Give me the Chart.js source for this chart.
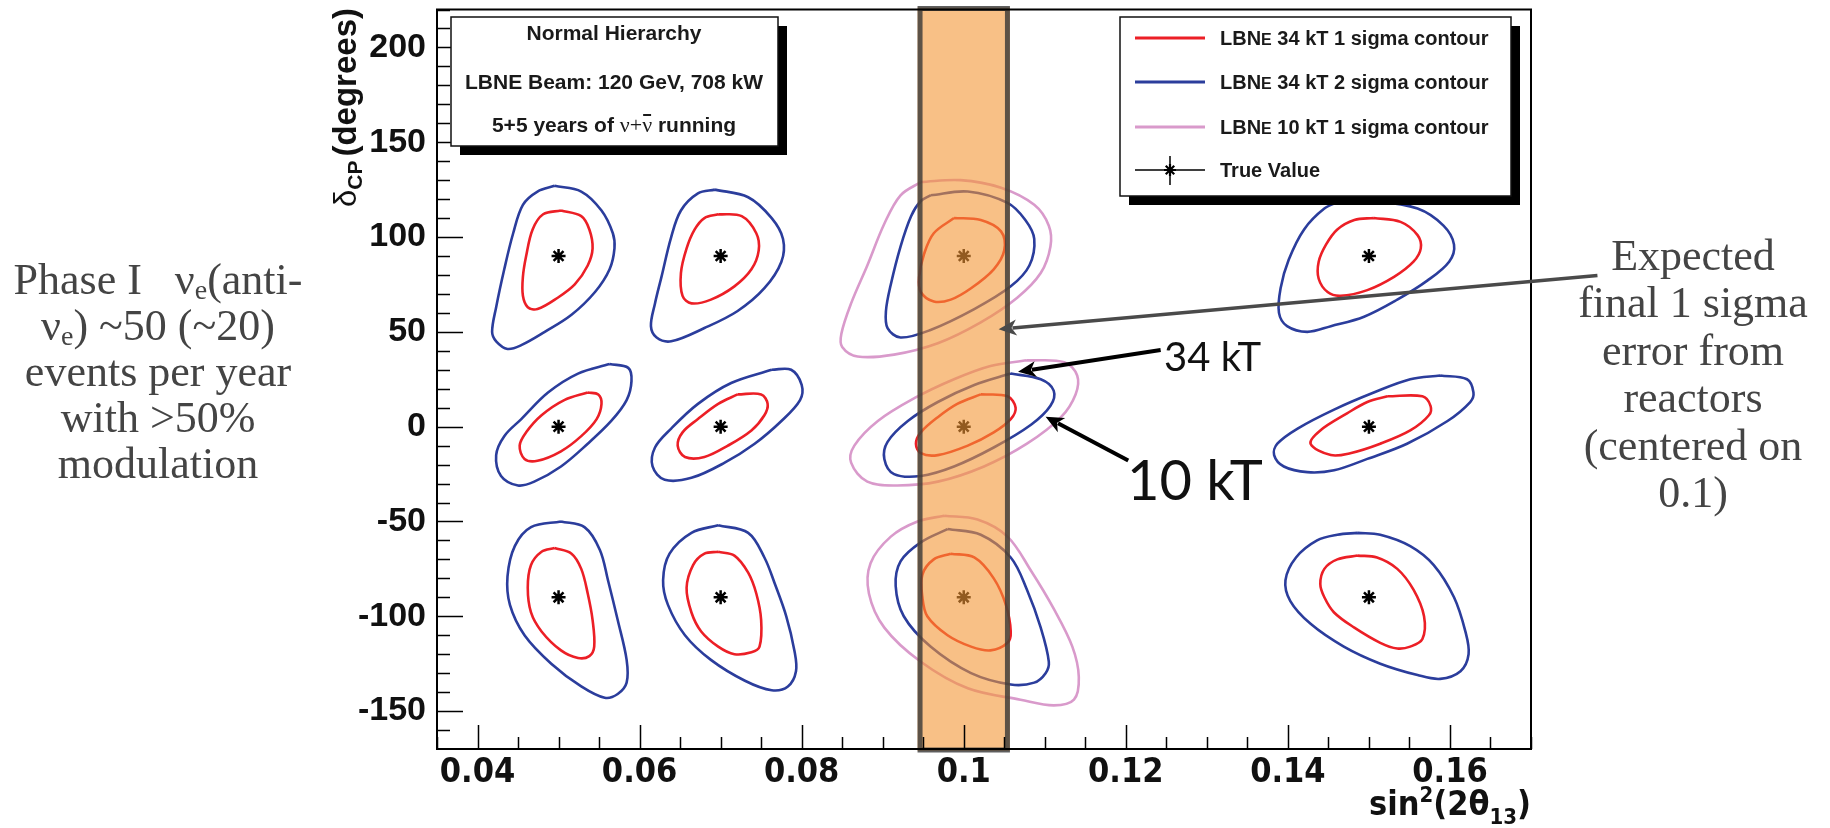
<!DOCTYPE html>
<html>
<head>
<meta charset="utf-8">
<script src="https://cdn.jsdelivr.net/npm/chart.js@4.4.1/dist/chart.umd.min.js"></script>
<style>
  html, body { margin: 0; padding: 0; background: #fff; }
  #wrap { width: 1830px; height: 828px; position: relative; }
</style>
</head>
<body>
<div id="wrap"><canvas id="chart" width="1830" height="828"></canvas></div>
<script>
// axis ticks
const xTickVals = [0.04, 0.06, 0.08, 0.1, 0.12, 0.14, 0.16];
const yTickVals = [-150, -100, -50, 0, 50, 100, 150, 200];

// true values (sin^2 2theta13, deltaCP)
const trueValues = [
  [0.05, 90], [0.07, 90], [0.1, 90], [0.15, 90],
  [0.05, 0], [0.07, 0], [0.1, 0], [0.15, 0],
  [0.05, -90], [0.07, -90], [0.1, -90], [0.15, -90]
];

// LBNE 34 kT 1 sigma contours
const red34kT = [
  [[0.0503,114],[0.0528,111],[0.0538,104],[0.0542,94],[0.0536,85],[0.052,75],[0.0499,68],[0.0474,62],[0.0462,63],[0.0456,69],[0.0456,79],[0.046,90],[0.0468,104],[0.0481,112]],
  [[0.0697,112],[0.0726,111],[0.0744,102],[0.0747,93],[0.0738,83],[0.0717,74],[0.0688,67],[0.0664,65],[0.0653,69],[0.0651,81],[0.0658,94],[0.0668,104],[0.068,110]],
  [[0.0988,110],[0.1021,109],[0.1046,103],[0.105,93],[0.1037,83],[0.1009,73],[0.0984,67],[0.0963,66],[0.0947,71],[0.0945,79],[0.0951,91],[0.0963,102]],
  [[0.1506,110],[0.1539,108],[0.156,101],[0.1564,94],[0.1555,87],[0.1531,79],[0.1498,72],[0.1465,69],[0.1449,71],[0.1438,78],[0.1438,87],[0.1447,96],[0.1461,104],[0.1482,109]],
  [[0.0536,18],[0.0549,17],[0.0553,12],[0.0547,4],[0.0528,-5],[0.0503,-13],[0.0474,-18],[0.0458,-17],[0.0452,-10],[0.046,-3],[0.0479,6],[0.0507,14]],
  [[0.0721,17],[0.075,17],[0.0758,12],[0.0754,6],[0.0738,-2],[0.0709,-10],[0.068,-16],[0.0656,-16],[0.0647,-10],[0.0653,-3],[0.0672,4],[0.0697,12]],
  [[0.1021,17],[0.1054,16],[0.1064,10],[0.1058,4],[0.1037,-3],[0.1005,-10],[0.0968,-15],[0.0947,-14],[0.0941,-9],[0.0947,-3],[0.0968,5],[0.0992,12]],
  [[0.1523,16],[0.1566,16],[0.1576,11],[0.1574,6],[0.1551,-2],[0.1514,-9],[0.1477,-14],[0.1453,-15],[0.1428,-9],[0.144,-2],[0.1473,7],[0.1498,13]],
  [[0.0495,-64],[0.0516,-67],[0.0528,-75],[0.0536,-88],[0.0542,-102],[0.0544,-116],[0.0538,-121],[0.0524,-122],[0.0503,-118],[0.0479,-108],[0.0466,-98],[0.0462,-85],[0.0466,-73],[0.0479,-66]],
  [[0.0697,-66],[0.0717,-68],[0.0734,-77],[0.0744,-88],[0.075,-102],[0.0748,-116],[0.0738,-119],[0.0717,-120],[0.0697,-116],[0.0676,-108],[0.0664,-98],[0.0658,-85],[0.0666,-73],[0.068,-67]],
  [[0.0984,-67],[0.1013,-69],[0.1037,-80],[0.1052,-94],[0.1058,-108],[0.1054,-114],[0.1033,-118],[0.1009,-116],[0.098,-110],[0.0955,-100],[0.0949,-90],[0.0949,-78],[0.0963,-70]],
  [[0.1486,-68],[0.151,-69],[0.1535,-75],[0.1555,-86],[0.1568,-100],[0.1566,-112],[0.1551,-116],[0.1535,-117],[0.1514,-114],[0.1482,-106],[0.1457,-98],[0.1445,-90],[0.144,-83],[0.1445,-75],[0.1461,-70]]
];

// LBNE 34 kT 2 sigma contours
const blue34kT = [
  [[0.0495,127],[0.0528,124],[0.0553,114],[0.0567,102],[0.0569,94],[0.0563,83],[0.0545,71],[0.0516,59],[0.0483,50],[0.0454,43],[0.0437,41],[0.0423,45],[0.0418,50],[0.0423,63],[0.0433,83],[0.0444,102],[0.0456,117],[0.0474,124]],
  [[0.0693,125],[0.0734,121],[0.0763,110],[0.0777,99],[0.0775,87],[0.0754,73],[0.0721,61],[0.068,52],[0.0639,45],[0.0621,47],[0.0614,53],[0.0619,65],[0.0627,79],[0.0639,100],[0.0651,114],[0.0672,123]],
  [[0.0959,122],[0.1005,124],[0.1054,118],[0.1076,109],[0.1087,99],[0.1081,85],[0.1058,74],[0.1013,62],[0.0959,51],[0.0922,47],[0.0906,52],[0.0904,61],[0.091,75],[0.0922,95],[0.0935,111],[0.0947,119]],
  [[0.1465,119],[0.1506,119],[0.156,115],[0.1592,106],[0.1605,96],[0.1599,87],[0.1572,77],[0.1535,67],[0.1494,58],[0.1453,53],[0.1424,50],[0.1399,53],[0.1389,60],[0.1391,73],[0.1401,88],[0.142,104],[0.1445,115]],
  [[0.0563,33],[0.0586,31],[0.059,24],[0.0584,14],[0.0565,3],[0.0536,-9],[0.0503,-21],[0.047,-29],[0.045,-31],[0.0429,-26],[0.0423,-15],[0.0433,-5],[0.0454,4],[0.0487,18],[0.0524,28]],
  [[0.0763,30],[0.0787,30],[0.08,22],[0.0798,14],[0.0775,3],[0.0742,-9],[0.0705,-19],[0.0664,-27],[0.0631,-28],[0.0616,-21],[0.0619,-11],[0.0639,-1],[0.0672,12],[0.0713,23]],
  [[0.1058,28],[0.1095,25],[0.1111,19],[0.1107,11],[0.1083,1],[0.1037,-11],[0.0988,-21],[0.0947,-26],[0.0914,-25],[0.0902,-17],[0.0906,-8],[0.0931,3],[0.0968,13],[0.1013,22]],
  [[0.1588,27],[0.1621,25],[0.1629,18],[0.1625,13],[0.1597,3],[0.1547,-9],[0.1498,-17],[0.1457,-23],[0.1424,-24],[0.1395,-21],[0.1383,-15],[0.1387,-9],[0.1412,-1],[0.1457,9],[0.1506,18],[0.1551,25]],
  [[0.0503,-50],[0.0532,-53],[0.0551,-65],[0.0561,-81],[0.0573,-102],[0.0584,-123],[0.0584,-135],[0.0573,-141],[0.0557,-143],[0.0528,-137],[0.0491,-125],[0.0458,-110],[0.044,-94],[0.0437,-79],[0.0446,-63],[0.0466,-53]],
  [[0.0697,-52],[0.0734,-56],[0.0754,-69],[0.0767,-83],[0.0781,-100],[0.0791,-118],[0.0793,-129],[0.0783,-137],[0.0763,-139],[0.073,-134],[0.0688,-123],[0.0656,-110],[0.0635,-94],[0.0629,-81],[0.0637,-67],[0.0664,-56]],
  [[0.098,-54],[0.1021,-57],[0.1058,-69],[0.1078,-86],[0.1095,-106],[0.1105,-124],[0.1101,-130],[0.1087,-135],[0.1058,-136],[0.1009,-130],[0.0959,-116],[0.0926,-100],[0.0916,-84],[0.0922,-71],[0.0947,-61]],
  [[0.1486,-56],[0.1514,-57],[0.1551,-63],[0.158,-73],[0.1605,-90],[0.1619,-108],[0.1623,-120],[0.1613,-129],[0.1588,-133],[0.156,-131],[0.1514,-125],[0.1469,-116],[0.1428,-104],[0.1403,-92],[0.1397,-81],[0.141,-69],[0.1436,-60],[0.1461,-57]]
];

// LBNE 10 kT 1 sigma contours (only at 0.1)
const pink10kT = [
  [[0.0947,129],[0.0996,130],[0.1046,126],[0.1087,117],[0.1105,106],[0.1107,95],[0.1095,81],[0.1066,68],[0.1021,55],[0.0968,44],[0.0914,38],[0.0869,37],[0.085,42],[0.0849,49],[0.0861,65],[0.0881,85],[0.0902,107],[0.0922,122]],
  [[0.1078,35],[0.1124,34],[0.114,27],[0.1138,17],[0.112,5],[0.1078,-9],[0.1025,-21],[0.0968,-29],[0.0918,-31],[0.0881,-29],[0.0861,-19],[0.0865,-10],[0.0894,3],[0.0939,15],[0.0988,25],[0.1033,32]],
  [[0.0976,-47],[0.1017,-49],[0.1054,-58],[0.1083,-76],[0.1111,-96],[0.1134,-116],[0.1142,-132],[0.1136,-144],[0.1111,-147],[0.107,-144],[0.1005,-138],[0.0947,-124],[0.0902,-106],[0.0883,-88],[0.0885,-72],[0.091,-58],[0.0943,-50]]
];

// reactor 1 sigma band on sin^2 2theta13
const reactorBand = [0.0943, 0.1057];

// annotation arrows, data coordinates
const arrowTails = [[0.1782, 79.7], [0.1243, 40.4], [0.1203, -17.8]];
const arrowTips  = [[0.1043, 51.4], [0.1067, 28.9], [0.1101, 5.2]];

const SANS = '"Liberation Sans", Arial, sans-serif';
const NARROW = '"Liberation Sans Narrow", "DejaVu Sans Condensed", "Liberation Sans", sans-serif';
const SERIF = '"Liberation Serif", "Times New Roman", serif';
const HUMAN = 'Lato, "Open Sans", sans-serif';

const RED = '#ec1f26', BLUE = '#2b3d9c', PINK = '#d99acb';

const contourSets = [
  { label: 'LBNE 10 kT 1 sigma contour', color: PINK, polys: pink10kT },
  { label: 'LBNE 34 kT 2 sigma contour', color: BLUE, polys: blue34kT },
  { label: 'LBNE 34 kT 1 sigma contour', color: RED, polys: red34kT }
];

const datasets = [];
contourSets.forEach(set => {
  set.polys.forEach(poly => {
    datasets.push({
      label: set.label,
      data: poly.concat([poly[0]]).map(p => ({ x: p[0], y: p[1] })),
      showLine: true,
      borderColor: set.color,
      borderWidth: 2.6,
      pointRadius: 0,
      tension: 0.35,
      fill: false
    });
  });
});
datasets.push({
  label: 'True Value',
  data: trueValues.map(p => ({ x: p[0], y: p[1] })),
  showLine: false,
  pointStyle: 'star',
  pointRadius: 7,
  borderColor: '#000',
  borderWidth: 2.5
});

function runsWidth(ctx, runs) {
  let w = 0;
  runs.forEach(r => { ctx.font = r.f; w += ctx.measureText(r.t).width + (r.dx || 0); });
  return w;
}
function drawRuns(ctx, runs, x, y, align) {
  const w = runsWidth(ctx, runs);
  let cx = align === 'center' ? x - w / 2 : align === 'right' ? x - w : x;
  ctx.textAlign = 'left';
  ctx.textBaseline = 'alphabetic';
  runs.forEach(r => {
    ctx.font = r.f;
    cx += (r.dx || 0);
    const rw = ctx.measureText(r.t).width;
    ctx.fillText(r.t, cx, y + (r.dy || 0));
    if (r.bar) {
      ctx.save();
      ctx.lineWidth = 2;
      ctx.strokeStyle = ctx.fillStyle;
      ctx.beginPath();
      ctx.moveTo(cx + 1, y - r.bar);
      ctx.lineTo(cx + rw - 1, y - r.bar);
      ctx.stroke();
      ctx.restore();
    }
    cx += rw;
  });
  return w;
}

function drawStar(ctx, x, y, r) {
  ctx.beginPath();
  for (let k = 0; k < 4; k++) {
    const a = k * Math.PI / 4;
    ctx.moveTo(x - r * Math.cos(a), y - r * Math.sin(a));
    ctx.lineTo(x + r * Math.cos(a), y + r * Math.sin(a));
  }
  ctx.stroke();
}

function shadowBox(ctx, x, y, w, h, off) {
  ctx.fillStyle = '#000';
  ctx.fillRect(x + off, y + off, w, h);
  ctx.fillStyle = '#fff';
  ctx.fillRect(x, y, w, h);
  ctx.strokeStyle = '#111';
  ctx.lineWidth = 1.5;
  ctx.strokeRect(x, y, w, h);
}

function arrow(ctx, x0, y0, x1, y1, color, width, headLen, headHalf) {
  const ang = Math.atan2(y1 - y0, x1 - x0);
  const bx = x1 - headLen * Math.cos(ang), by = y1 - headLen * Math.sin(ang);
  ctx.strokeStyle = color;
  ctx.fillStyle = color;
  ctx.lineWidth = width;
  ctx.beginPath();
  ctx.moveTo(x0, y0);
  ctx.lineTo(bx + 4 * Math.cos(ang), by + 4 * Math.sin(ang));
  ctx.stroke();
  ctx.beginPath();
  ctx.moveTo(x1, y1);
  ctx.lineTo(bx - headHalf * Math.sin(ang), by + headHalf * Math.cos(ang));
  ctx.lineTo(bx + 5 * Math.cos(ang), by + 5 * Math.sin(ang));
  ctx.lineTo(bx + headHalf * Math.sin(ang), by - headHalf * Math.cos(ang));
  ctx.closePath();
  ctx.fill();
}

const overlay = {
  id: 'overlay',
  afterDatasetsDraw(chart) {
    const ctx = chart.ctx;
    const { left, right, top, bottom } = chart.chartArea;
    const xs = chart.scales.x, ys = chart.scales.y;
    ctx.save();

    // reactor band
    const bx0 = xs.getPixelForValue(reactorBand[0]);
    const bx1 = xs.getPixelForValue(reactorBand[1]);
    ctx.fillStyle = 'rgba(244,150,54,0.6)';
    ctx.fillRect(bx0, top - 2, bx1 - bx0, bottom - top + 4);
    ctx.strokeStyle = 'rgba(55,55,55,0.8)';
    ctx.lineWidth = 5;
    ctx.strokeRect(bx0 + 2.5, top - 1, bx1 - bx0 - 5, bottom - top + 2);

    // frame
    ctx.strokeStyle = '#000';
    ctx.lineWidth = 2;
    ctx.strokeRect(left, top, right - left, bottom - top);

    // inward ticks
    ctx.lineWidth = 1.5;
    ctx.beginPath();
    for (let i = 0; i * 0.005 + 0.035 <= 0.1701; i++) {
      const v = 0.035 + i * 0.005;
      const major = Math.abs(v / 0.02 - Math.round(v / 0.02)) < 1e-6;
      const px = Math.round(xs.getPixelForValue(v)) + 0.5;
      ctx.moveTo(px, bottom);
      ctx.lineTo(px, bottom - (major ? 24 : 12));
    }
    for (let v = -160; v <= 220; v += 10) {
      const major = v % 50 === 0;
      const py = Math.round(ys.getPixelForValue(v)) + 0.5;
      ctx.moveTo(left, py);
      ctx.lineTo(left + (major ? 26 : 13), py);
    }
    ctx.stroke();

    // arrows
    const arrowStyles = [['#4a4a4a', 3.5], ['#000', 4], ['#000', 4]];
    arrowTails.forEach((t, i) => {
      const h = arrowTips[i];
      arrow(ctx, xs.getPixelForValue(t[0]), ys.getPixelForValue(t[1]),
        xs.getPixelForValue(h[0]), ys.getPixelForValue(h[1]),
        arrowStyles[i][0], arrowStyles[i][1], 18, 8);
    });

    // info box
    shadowBox(ctx, 451, 17, 327, 129, 9);
    ctx.fillStyle = '#1a1a1a';
    const b21 = 'bold 21px ' + SANS;
    drawRuns(ctx, [{ t: 'Normal Hierarchy', f: b21 }], 614, 40, 'center');
    drawRuns(ctx, [{ t: 'LBNE Beam: 120 GeV, 708 kW', f: b21 }], 614, 89, 'center');
    drawRuns(ctx, [
      { t: '5+5 years of ', f: b21 },
      { t: '\u03bd+', f: '22px ' + SERIF },
      { t: '\u03bd', f: '22px ' + SERIF, bar: 17 },
      { t: ' running', f: b21 }
    ], 614, 132, 'center');

    // legend
    shadowBox(ctx, 1120, 17, 391, 179, 9);
    const rows = [38, 82, 127, 170];
    const legendItems = [contourSets[2], contourSets[1], contourSets[0]];
    legendItems.forEach((it, i) => {
      ctx.strokeStyle = it.color;
      ctx.lineWidth = 3;
      ctx.beginPath();
      ctx.moveTo(1135, rows[i]);
      ctx.lineTo(1205, rows[i]);
      ctx.stroke();
      ctx.fillStyle = '#1a1a1a';
      const rest = it.label.replace(/^LBNE/, '');
      drawRuns(ctx, [
        { t: 'LBN', f: 'bold 20px ' + SANS },
        { t: 'E', f: 'bold 16px ' + SANS },
        { t: rest, f: 'bold 20px ' + SANS }
      ], 1220, rows[i] + 7, 'left');
    });
    ctx.strokeStyle = '#000';
    ctx.lineWidth = 1.5;
    ctx.beginPath();
    ctx.moveTo(1135, rows[3]); ctx.lineTo(1205, rows[3]);
    ctx.moveTo(1170, rows[3] - 14); ctx.lineTo(1170, rows[3] + 15);
    ctx.stroke();
    ctx.lineWidth = 2.2;
    drawStar(ctx, 1170, rows[3], 6);
    ctx.fillStyle = '#1a1a1a';
    drawRuns(ctx, [{ t: 'True Value', f: 'bold 20px ' + SANS }], 1220, rows[3] + 7, 'left');

    // axis titles
    ctx.fillStyle = '#111';
    const yTitle = [
      { t: '\u03b4', f: '31px ' + SANS },
      { t: 'CP', f: 'bold 21px ' + SANS, dy: 6 },
      { t: '(degrees)', f: 'bold 33px ' + SANS, dx: 4 }
    ];
    const tw = runsWidth(ctx, yTitle);
    ctx.save();
    ctx.translate(356, 8 + tw);
    ctx.rotate(-Math.PI / 2);
    drawRuns(ctx, yTitle, 0, 0, 'left');
    ctx.restore();

    drawRuns(ctx, [
      { t: 'sin', f: 'bold 34px ' + NARROW },
      { t: '2', f: 'bold 22px ' + NARROW, dy: -13 },
      { t: '(2\u03b8', f: 'bold 34px ' + NARROW },
      { t: '13', f: 'bold 22px ' + NARROW, dy: 9 },
      { t: ')', f: 'bold 34px ' + NARROW }
    ], right, 815, 'right');

    // detector labels
    ctx.fillStyle = '#111';
    drawRuns(ctx, [{ t: '34 kT', f: '40px ' + HUMAN }], 1164, 371, 'left');
    drawRuns(ctx, [{ t: '10 kT', f: '56px ' + HUMAN }], 1127, 500, 'left');

    // side notes
    ctx.fillStyle = '#444';
    const s44 = '44px ' + SERIF, sub = '28px ' + SERIF;
    const leftLines = [
      [{ t: 'Phase I   \u03bd', f: s44 }, { t: 'e', f: sub, dy: 5 }, { t: '(anti-', f: s44 }],
      [{ t: '\u03bd', f: s44 }, { t: 'e', f: sub, dy: 5 }, { t: ') ~50 (~20)', f: s44 }],
      [{ t: 'events per year', f: s44 }],
      [{ t: 'with >50%', f: s44 }],
      [{ t: 'modulation', f: s44 }]
    ];
    leftLines.forEach((ln, i) => drawRuns(ctx, ln, 158, 294 + 46 * i, 'center'));
    const rightLines = ['Expected', 'final 1 sigma', 'error from', 'reactors', '(centered on', '0.1)'];
    rightLines.forEach((t, i) => drawRuns(ctx, [{ t: t, f: s44 }], 1693, 270 + 47.4 * i, 'center'));

    ctx.restore();
  }
};

new Chart(document.getElementById('chart'), {
  type: 'scatter',
  data: { datasets: datasets },
  options: {
    responsive: false,
    animation: false,
    devicePixelRatio: 1,
    events: [],
    layout: { padding: { left: 0, right: 299, top: 9, bottom: 0 } },
    plugins: { legend: { display: false }, tooltip: { enabled: false } },
    scales: {
      x: {
        type: 'linear',
        min: 0.035,
        max: 0.17,
        grid: { display: false, drawTicks: false },
        border: { display: false },
        afterFit: s => { s.height = 79; s.paddingLeft = 0; s.paddingRight = 0; },
        afterBuildTicks: s => { s.ticks = xTickVals.map(v => ({ value: v })); },
        ticks: {
          autoSkip: false,
          maxRotation: 0,
          padding: 4,
          color: '#111',
          font: { family: NARROW, size: 34, weight: 'bold' },
          callback: v => String(Number(v.toFixed(2)))
        }
      },
      y: {
        type: 'linear',
        min: -170,
        max: 220,
        grid: { display: false, drawTicks: false },
        border: { display: false },
        afterFit: s => { s.width = 437; s.paddingTop = 0; s.paddingBottom = 0; },
        afterBuildTicks: s => { s.ticks = yTickVals.map(v => ({ value: v })); },
        ticks: {
          autoSkip: false,
          padding: 11,
          color: '#111',
          font: { family: SANS, size: 34, weight: 'bold' },
          callback: v => String(v)
        }
      }
    }
  },
  plugins: [overlay]
});
</script>
</body>
</html>
